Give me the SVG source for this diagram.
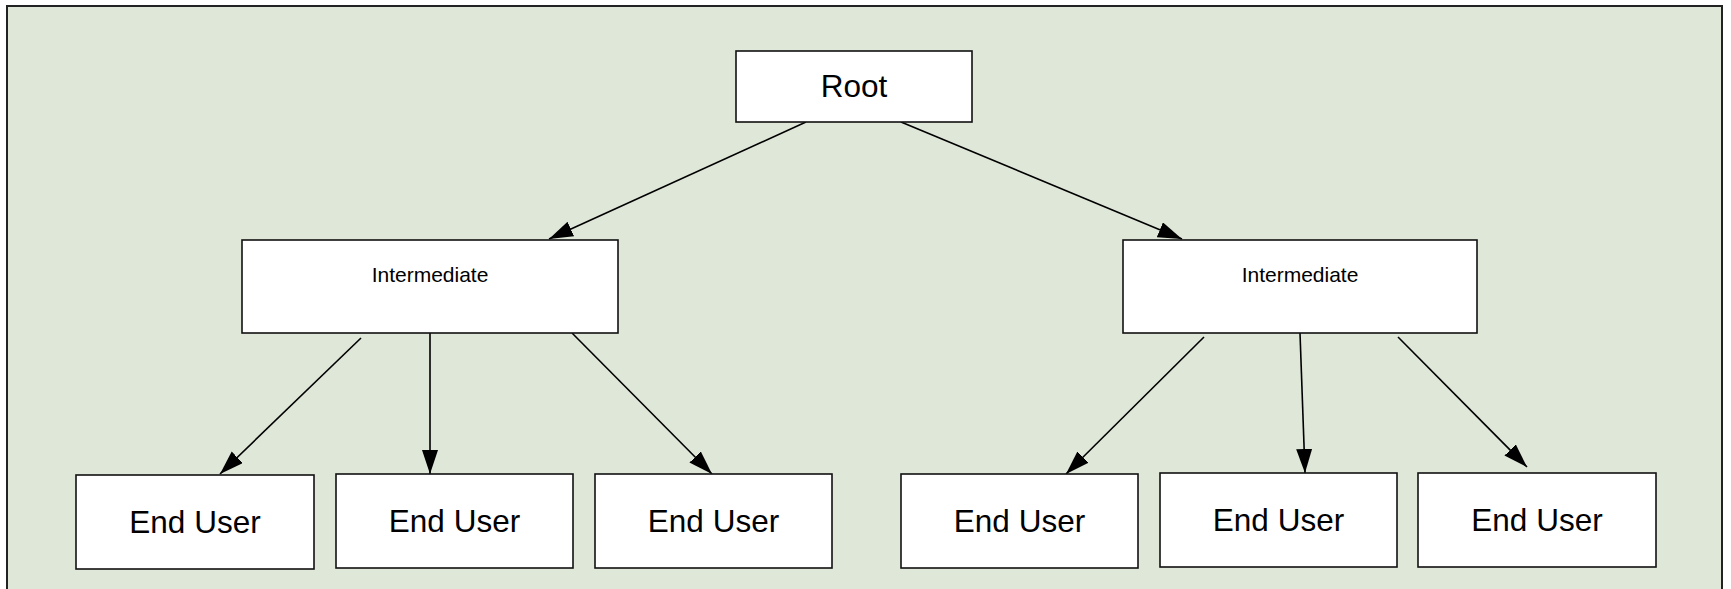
<svg xmlns="http://www.w3.org/2000/svg" width="1731" height="589" viewBox="0 0 1731 589">
<style>
.bg{fill:#ffffff}
.panel{fill:#dfe7d8;stroke:#222;stroke-width:2}
.box{fill:#ffffff;stroke:#111;stroke-width:1.6}
.lbl{font-family:"Liberation Sans",Arial,sans-serif;fill:#000;text-anchor:middle}
.big{font-size:31.5px}
.mid{font-size:21px}
.edge{stroke:#000;stroke-width:1.6;fill:none;marker-end:url(#arr)}
</style>
<defs>
<marker id="arr" markerUnits="userSpaceOnUse" markerWidth="26" markerHeight="18" refX="24" refY="8" orient="auto">
<path d="M0,0 L24,8 L0,16 z" fill="#000"/>
</marker>
</defs>
<rect class="bg" x="0" y="0" width="1731" height="589"/>
<rect class="panel" x="7" y="6" width="1715" height="600"/>
<g id="connectors">
<line class="edge" x1="806" y1="122" x2="549" y2="239"/>
<line class="edge" x1="901" y1="122" x2="1182" y2="239"/>
<line class="edge" x1="361" y1="338" x2="220" y2="474"/>
<line class="edge" x1="430" y1="333" x2="430" y2="474"/>
<line class="edge" x1="572" y1="333" x2="712" y2="474"/>
<line class="edge" x1="1204" y1="337" x2="1066" y2="474"/>
<line class="edge" x1="1300" y1="333" x2="1305" y2="473"/>
<line class="edge" x1="1398" y1="337" x2="1527" y2="467"/>
</g>
<g id="root">
<rect class="box" x="736" y="51" width="236" height="71"/>
<text class="lbl big" x="854" y="96.5">Root</text>
</g>
<g id="intermediate-left">
<rect class="box" x="242" y="240" width="376" height="93"/>
<text class="lbl mid" x="430" y="281.5">Intermediate</text>
</g>
<g id="intermediate-right">
<rect class="box" x="1123" y="240" width="354" height="93"/>
<text class="lbl mid" x="1300" y="281.5">Intermediate</text>
</g>
<g id="enduser-1">
<rect class="box" x="76" y="475" width="238" height="94"/>
<text class="lbl big" x="195" y="532.5">End User</text>
</g>
<g id="enduser-2">
<rect class="box" x="336" y="474" width="237" height="94"/>
<text class="lbl big" x="454.5" y="531.5">End User</text>
</g>
<g id="enduser-3">
<rect class="box" x="595" y="474" width="237" height="94"/>
<text class="lbl big" x="713.5" y="531.5">End User</text>
</g>
<g id="enduser-4">
<rect class="box" x="901" y="474" width="237" height="94"/>
<text class="lbl big" x="1019.5" y="531.5">End User</text>
</g>
<g id="enduser-5">
<rect class="box" x="1160" y="473" width="237" height="94"/>
<text class="lbl big" x="1278.5" y="530.5">End User</text>
</g>
<g id="enduser-6">
<rect class="box" x="1418" y="473" width="238" height="94"/>
<text class="lbl big" x="1537" y="530.5">End User</text>
</g>
</svg>
